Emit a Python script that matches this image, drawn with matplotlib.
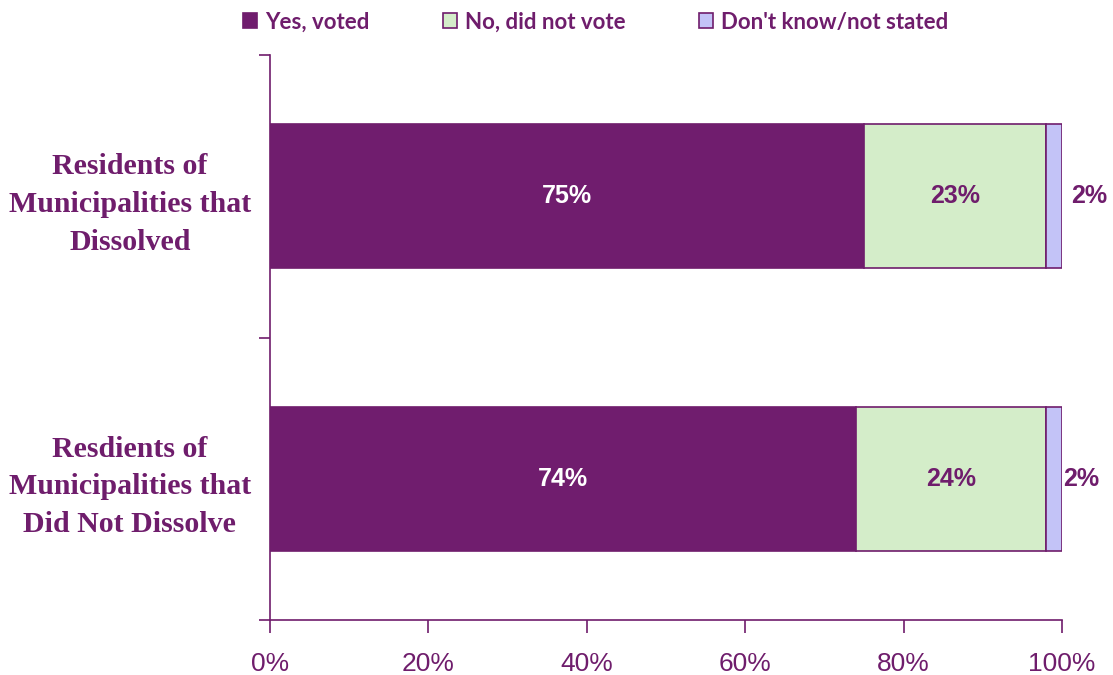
import matplotlib
matplotlib.use("Agg")
import matplotlib.pyplot as plt
import numpy as np

categories = ["Residents of\nMunicipalities that\nDissolved",
              "Resdients of\nMunicipalities that\nDid Not Dissolve"]
series_names = ["Yes, voted", "No, did not vote", "Don't know/not stated"]
yes_vals = [75, 74]
no_vals = [23, 24]
dk_vals = [2, 2]
xticks = [0, 20, 40, 60, 80, 100]
xtick_labels = ["0%", "20%", "40%", "60%", "80%", "100%"]

purple = "#6F1D6C"
colors = ["#701D6E", "#D4EDC9", "#C3C3F7"]

fig = plt.figure(figsize=(11.13, 6.75), dpi=100)
ax = fig.add_axes([270/1113, 1-620/675, (1062-270)/1113, (620-55)/675])

y = np.arange(len(categories))
series = [yes_vals, no_vals, dk_vals]
left = np.zeros(len(categories))
bars = []
for name, vals, c in zip(series_names, series, colors):
    b = ax.barh(y, vals, left=left, height=0.51, color=c, edgecolor=purple,
                linewidth=1.2, label=name)
    bars.append(b)
    left = left + np.array(vals)

for i in range(len(categories)):
    ax.text(yes_vals[i] / 2, y[i], f"{yes_vals[i]}%", ha="center", va="center",
            color="white", fontsize=18, fontweight="bold", family="Liberation Sans")
    ax.text(yes_vals[i] + no_vals[i] / 2, y[i], f"{no_vals[i]}%", ha="center", va="center",
            color=purple, fontsize=18, fontweight="bold", family="Liberation Sans")
    ax.text(yes_vals[i] + no_vals[i] + dk_vals[i] + 0.1 + (1.0 if i == 0 else 0), y[i],
            f"{dk_vals[i]}%", ha="left", va="center",
            color=purple, fontsize=18, fontweight="bold", family="Liberation Sans")

ax.set_xlim(0, 100)
ax.set_ylim(1.5, -0.5)
ax.set_xticks(xticks)
ax.set_xticklabels(xtick_labels, fontsize=19, color=purple,
                   family=["Liberation Sans Narrow", "Liberation Sans"])
ax.set_yticks(y)
ax.set_yticklabels(categories, fontsize=21.5, fontweight="bold", color=purple,
                   family=["Liberation Serif"], linespacing=1.5, ha="center")
ax.tick_params(axis="y", which="major", length=0, pad=101)
ax.set_yticks([-0.5, 0.5, 1.5], minor=True)
ax.tick_params(axis="y", which="minor", length=8, color=purple, width=1.2)
ax.tick_params(axis="x", length=9, color=purple, width=1.2, pad=14)
for s in ["top", "right"]:
    ax.spines[s].set_visible(False)
for s in ["left", "bottom"]:
    ax.spines[s].set_color(purple)
    ax.spines[s].set_linewidth(1.2)

leg = fig.legend(handles=bars, labels=series_names, loc="center",
                 bbox_to_anchor=(0.535, 1-22/675), ncol=3, frameon=False,
                 handlelength=0.65, handleheight=0.65,
                 columnspacing=3.3, handletextpad=0.35,
                 prop={"family": "Lato", "size": 16, "weight": "bold"})
for t in leg.get_texts():
    t.set_color(purple)

fig.savefig("out.png", dpi=100)
